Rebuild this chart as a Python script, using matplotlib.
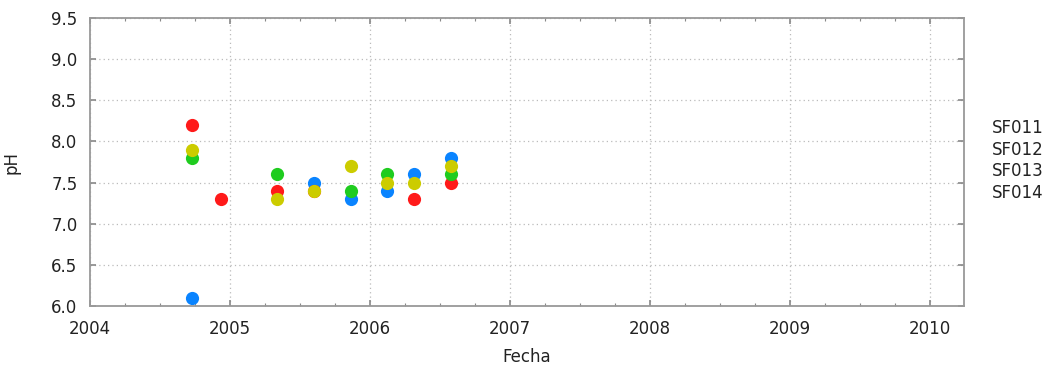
import matplotlib
matplotlib.use("Agg")
import matplotlib.pyplot as plt
from matplotlib.ticker import MultipleLocator

series_names = ["SF011", "SF012", "SF013", "SF014"]
colors = ["#0A84FF", "#FF1A1A", "#1FCC1F", "#CCCC00"]

sf011_x = [2004.729, 2005.600, 2005.864, 2006.121, 2006.314, 2006.579]
sf011_y = [6.1, 7.5, 7.3, 7.4, 7.6, 7.8]

sf012_x = [2004.729, 2004.936, 2005.336, 2005.600, 2006.314, 2006.579]
sf012_y = [8.2, 7.3, 7.4, 7.4, 7.3, 7.5]

sf013_x = [2004.729, 2005.336, 2005.864, 2006.121, 2006.579]
sf013_y = [7.8, 7.6, 7.4, 7.6, 7.6]

sf014_x = [2004.729, 2005.336, 2005.600, 2005.864, 2006.121, 2006.314, 2006.579]
sf014_y = [7.9, 7.3, 7.4, 7.7, 7.5, 7.5, 7.7]

year_ticks = [2004, 2005, 2006, 2007, 2008, 2009, 2010]
y_ticks = [6.0, 6.5, 7.0, 7.5, 8.0, 8.5, 9.0, 9.5]

plt.rcParams['font.family'] = ['DejaVu Sans']

fig = plt.figure(figsize=(10.51, 3.69), dpi=100)
ax = fig.add_axes([90/1051, 1-306/369, (964-90)/1051, (306-18)/369])

data = [(sf011_x, sf011_y), (sf012_x, sf012_y), (sf013_x, sf013_y), (sf014_x, sf014_y)]
for (xs, ys), c in zip(data, colors):
    ax.plot(xs, ys, linestyle="none", marker="o", markersize=9.5,
            color=c, markeredgewidth=0, clip_on=False)

ax.set_xlim(2004, 2010.243)
ax.set_ylim(6.0, 9.5)
ax.set_xticks(year_ticks)
ax.set_xticklabels([str(y) for y in year_ticks])
ax.xaxis.set_minor_locator(MultipleLocator(0.25))
ax.set_yticks(y_ticks)
ax.set_yticklabels([f"{v:.1f}" for v in y_ticks])

ax.grid(True, which="major", linestyle=(0, (1, 2.5)), color="#bbbbbb", linewidth=0.9)
for s in ax.spines.values():
    s.set_color("#999999")
    s.set_linewidth(1.3)
ax.tick_params(which="both", direction="in", top=True, right=True,
               color="#888888", labelsize=12, labelcolor="#222222")
ax.tick_params(which="major", length=4, width=1.2)
ax.tick_params(axis="x", which="major", pad=10)
ax.tick_params(axis="y", which="major", pad=9)
ax.tick_params(which="minor", length=2, width=0.8)

ax.set_xlabel("Fecha", fontsize=12, color="#222222", labelpad=7)
ax.set_ylabel("pH", fontsize=12, color="#222222", labelpad=22)

for i, name in enumerate(series_names):
    fig.text(992/1051, 1 - (128 + i*21.7)/369, name, fontsize=12,
             color="#222222", ha="left", va="center")

fig.savefig("out.png", dpi=100)
